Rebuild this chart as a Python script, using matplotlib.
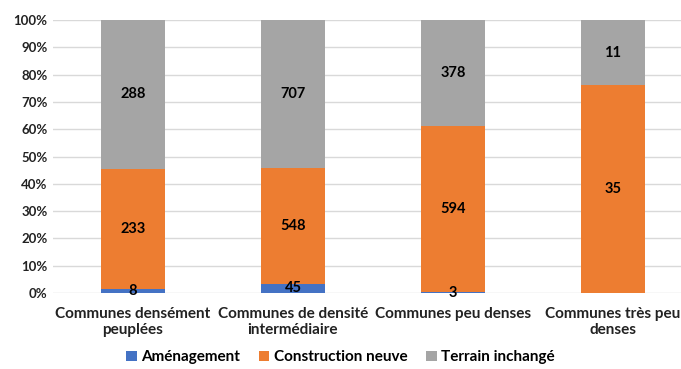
import numpy as np
import matplotlib.pyplot as plt

plt.rcParams['font.family'] = ['Lato', 'DejaVu Sans']

categories = ['Communes densément\npeuplées', 'Communes de densité\nintermédiaire',
              'Communes peu denses', 'Communes très peu\ndenses']
amenagement = np.array([8, 45, 3, 0])
construction = np.array([233, 548, 594, 35])
inchange = np.array([288, 707, 378, 11])

series = [('Aménagement', amenagement, '#4472C4'),
          ('Construction neuve', construction, '#ED7D31'),
          ('Terrain inchangé', inchange, '#A5A5A5')]

total = amenagement + construction + inchange
x = np.arange(len(categories))

fig = plt.figure(figsize=(6.81, 3.69), dpi=100)
ax = fig.add_axes([53/681, 76/369, 1 - 53/681, 273/369])

bottom = np.zeros(len(categories))
for name, vals, col in series:
    frac = vals / total
    ax.bar(x, frac, 0.4, bottom=bottom, color=col, label=name, zorder=3)
    for i in range(len(x)):
        if vals[i] > 0:
            ax.text(x[i], bottom[i] + frac[i] / 2, str(vals[i]), ha='center', va='center',
                    fontsize=10.5, fontweight='bold', color='black', zorder=4)
    bottom += frac

ax.set_xlim(-0.5, 3.425)
ax.set_ylim(0, 1)
ax.set_yticks(np.arange(0, 1.01, 0.1))
ax.set_yticklabels([f'{int(round(t*100))}%' for t in np.arange(0, 1.01, 0.1)],
                   fontsize=9.5, fontweight='bold', color='#222222')
ax.set_xticks(x)
ax.set_xticklabels(categories, fontsize=11, fontweight='bold', color='#222222',
                   linespacing=1.2)
ax.tick_params(axis='x', length=0, pad=10)
ax.tick_params(axis='y', length=0, pad=4)
ax.grid(axis='y', color='#D9D9D9', linewidth=1, zorder=0)
for s in ax.spines.values():
    s.set_visible(False)

fig.legend(loc='lower center', bbox_to_anchor=(0.5, -0.025), ncol=3, frameon=False,
           handlelength=0.7, handleheight=0.7, handletextpad=0.3, columnspacing=1.2,
           prop={'size': 11, 'weight': 'bold'})

fig.savefig('out.png', dpi=100)
